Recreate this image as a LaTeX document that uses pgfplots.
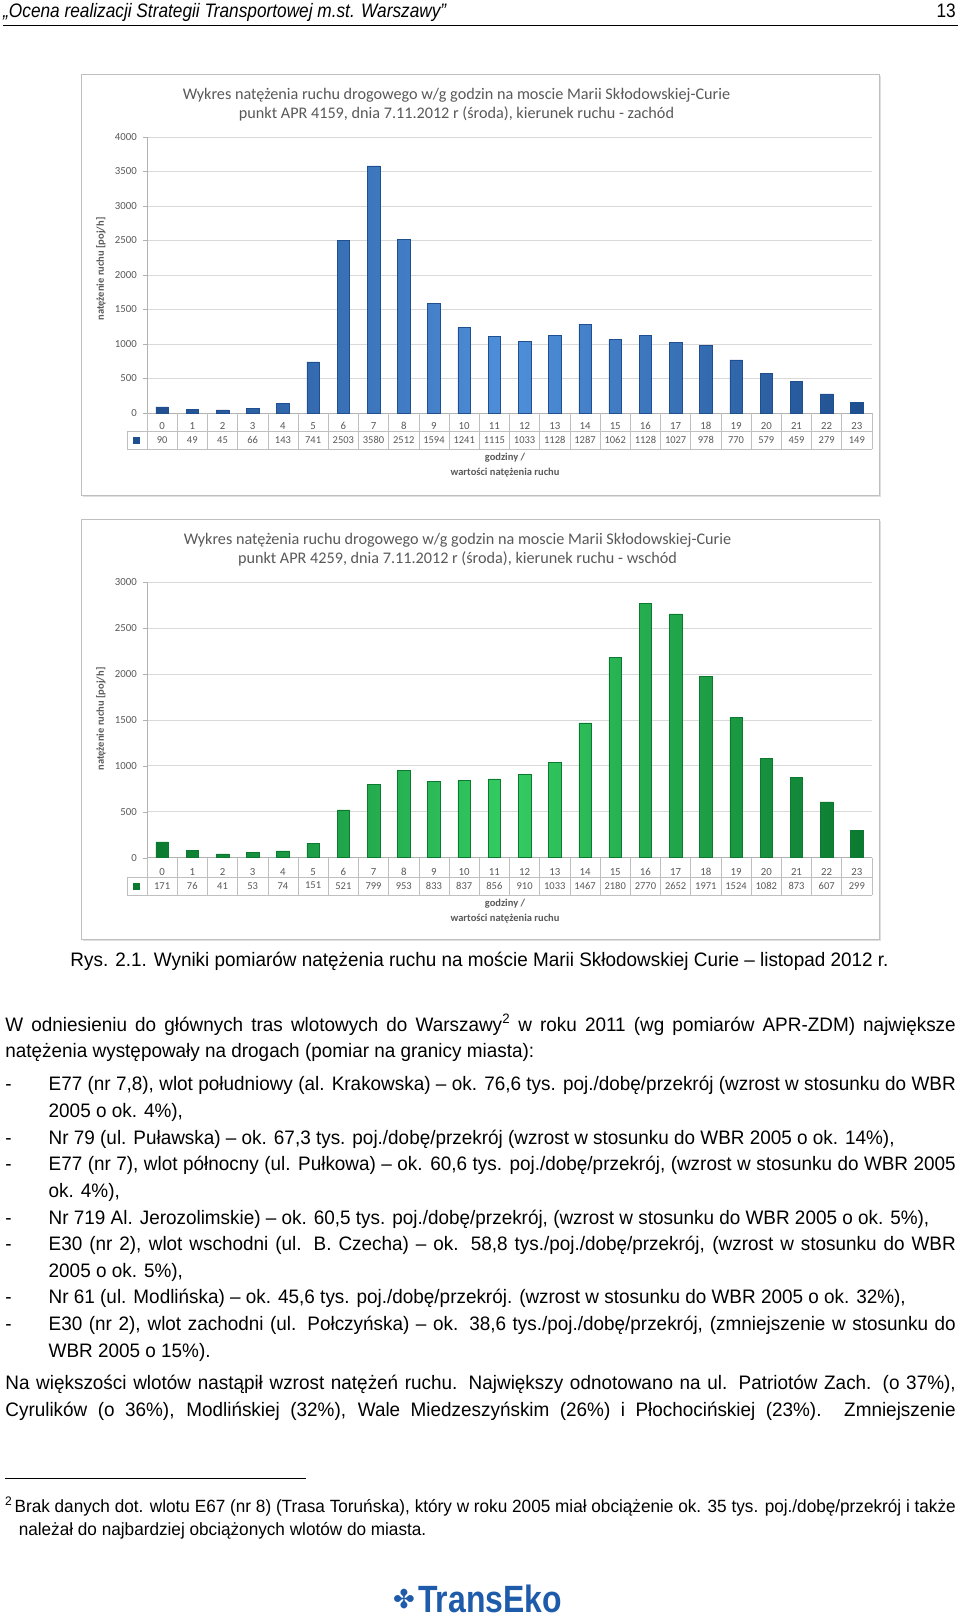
\documentclass[border=0pt]{standalone}
\usepackage{fontspec}
\setmainfont{Liberation Sans}
\newfontfamily\bodyf[FakeStretch=0.97]{Liberation Sans}
\newfontfamily\headf[FakeStretch=0.885]{Liberation Sans}
\newfontfamily\logof[FakeStretch=0.84]{Liberation Sans}
\newfontfamily\calibri{Carlito}
\newfontfamily\dejavu{DejaVu Sans}
\usepackage{pgfplots}
\usepackage{pgfplotstable}
\pgfplotsset{compat=1.18}

\definecolor{blueD}{HTML}{1F4F8F}
\definecolor{blueL}{HTML}{4F8FDA}
\definecolor{greenD}{HTML}{0B7A30}
\definecolor{greenL}{HTML}{34CC62}
\definecolor{chartgray}{HTML}{595959}
\definecolor{gridgray}{HTML}{D9D9D9}
\definecolor{tablegray}{HTML}{BFBFBF}
\definecolor{logoblue}{HTML}{1E5BAA}

\pgfplotstableread{
h v
0 90
1 49
2 45
3 66
4 143
5 741
6 2503
7 3580
8 2512
9 1594
10 1241
11 1115
12 1033
13 1128
14 1287
15 1062
16 1128
17 1027
18 978
19 770
20 579
21 459
22 279
23 149
}\westdata

\pgfplotstableread{
h v
0 171
1 76
2 41
3 53
4 74
5 151
6 521
7 799
8 953
9 833
10 837
11 856
12 910
13 1033
14 1467
15 2180
16 2770
17 2652
18 1971
19 1524
20 1082
21 873
22 607
23 299
}\eastdata

\pgfplotsset{
  trafficaxis/.style={
    scale only axis, width=725pt,
    xmin=-0.5, xmax=23.5, ymin=0,
    enlargelimits=false, clip=false,
    axis x line*=bottom, axis y line*=left,
    axis line style={draw=gray!60, line width=0.6pt},
    ymajorgrids, grid style={draw=gridgray, line width=0.6pt},
    ytick distance=500,
    xtick={0,...,23},
    xtick style={draw=none},
    ytick style={draw=gray!60},
    tick align=outside, major tick length=4pt,
    /pgf/number format/1000 sep={},
    /pgf/number format/assume math mode=true,
    tick label style={font=\calibri\fontsize{10.8}{12}\selectfont, text=chartgray},
    yticklabel style={anchor=east, inner sep=0pt, xshift=-6pt},
    xticklabel style={anchor=center, inner sep=0pt, yshift=#1},
  },
  valrow/.style={draw=none, nodes near coords={\pgfplotspointmeta},
    point meta=explicit symbolic,
    nodes near coords style={anchor=center, inner sep=0pt,
      font=\calibri\fontsize{10.5}{12}\selectfont, text=chartgray}},
}

\newcommand\jline[4]{\node[anchor=base west, inner sep=0pt] at (#1,-#2)
  {\bodyf\fontsize{19.5}{24}\selectfont\hbox to #3pt{#4}};}
\newcommand\tline[3]{\node[anchor=base west, inner sep=0pt] at (#1,-#2)
  {\bodyf\fontsize{19.5}{24}\selectfont #3};}

\begin{document}
\begin{tikzpicture}[x=1pt,y=1pt]
\fill[white] (0,0) rectangle (960,-1618);
\useasboundingbox (0,0) rectangle (960,-1618);

% header
\node[anchor=base west, inner sep=0pt] at (3,-17.5)
  {\headf\itshape\fontsize{19.5}{24}\selectfont „Ocena realizacji Strategii Transportowej m.st. Warszawy”};
\node[anchor=base east, inner sep=0pt] at (956,-17.5)
  {\headf\fontsize{19.5}{24}\selectfont 13};
\draw[line width=1.3pt] (3,-25.5) -- (958,-25.5);

% ---------- chart 1 ----------
\draw[gray!25, line width=1.5pt] (83,-496.5) -- (880.5,-496.5) -- (880.5,-76);
\draw[gray!50, line width=0.8pt, fill=white] (81,-74) rectangle (879,-495);
\node[align=center, font=\calibri\fontsize{16.2}{19}\selectfont, text=chartgray] at (456.5,-104.5)
  {Wykres natężenia ruchu drogowego w/g godzin na moscie Marii Skłodowskiej-Curie\\
   punkt APR 4159, dnia 7.11.2012 r (środa), kierunek ruchu - zachód};
\begin{axis}[trafficaxis=-9pt, height=276pt, ymax=4000,
  at={(147pt,-413pt)}, anchor=south west]
  \addplot[ybar, bar width=12.5pt, draw=blueD, line width=0.5pt,
    left color=blueD, right color=blueD, middle color=blueL]
    table[x=h, y=v] {\westdata};
  \addplot[valrow] table[x=h, y expr=-391, meta=v] {\westdata};
\end{axis}
\foreach \i in {0,...,24} {\draw[tablegray, line width=0.6pt] ({147+\i*30.2083},-413) -- ({147+\i*30.2083},-449);}
\draw[tablegray, line width=0.6pt] (127,-431) -- (872,-431);
\draw[tablegray, line width=0.6pt] (127,-449) -- (872,-449);
\draw[tablegray, line width=0.6pt] (127,-431) -- (127,-449);
\fill[blueD] (133,-436.5) rectangle (140,-443.5);
\node[rotate=90, font=\calibri\bfseries\fontsize{10.5}{12}\selectfont, text=chartgray] at (101,-269)
  {natężenie ruchu [poj/h]};
\node[align=center, font=\calibri\bfseries\fontsize{10.5}{15.5}\selectfont, text=chartgray] at (505,-465)
  {godziny /\\wartości natężenia ruchu};

% ---------- chart 2 ----------
\draw[gray!25, line width=1.5pt] (83,-940.5) -- (880.5,-940.5) -- (880.5,-521);
\draw[gray!50, line width=0.8pt, fill=white] (81,-519) rectangle (879,-939);
\node[align=center, font=\calibri\fontsize{16.2}{19}\selectfont, text=chartgray] at (457.5,-550)
  {Wykres natężenia ruchu drogowego w/g godzin na moscie Marii Skłodowskiej-Curie\\
   punkt APR 4259, dnia 7.11.2012 r (środa), kierunek ruchu - wschód};
\begin{axis}[trafficaxis=-10.4pt, height=275.6pt, ymax=3000,
  at={(147pt,-857.6pt)}, anchor=south west]
  \addplot[ybar, bar width=12.5pt, draw=greenD, line width=0.5pt,
    left color=greenD, right color=greenD, middle color=greenL]
    table[x=h, y=v] {\eastdata};
  \addplot[valrow] table[x=h, y expr=-305, meta=v] {\eastdata};
\end{axis}
\foreach \i in {0,...,24} {\draw[tablegray, line width=0.6pt] ({147+\i*30.2083},-857.6) -- ({147+\i*30.2083},-895);}
\draw[tablegray, line width=0.6pt] (127,-877) -- (872,-877);
\draw[tablegray, line width=0.6pt] (127,-895) -- (872,-895);
\draw[tablegray, line width=0.6pt] (127,-877) -- (127,-895);
\fill[greenD] (133,-882.5) rectangle (140,-889.5);
\node[rotate=90, font=\calibri\bfseries\fontsize{10.5}{12}\selectfont, text=chartgray] at (101,-719)
  {natężenie ruchu [poj/h]};
\node[align=center, font=\calibri\bfseries\fontsize{10.5}{15.5}\selectfont, text=chartgray] at (505,-911)
  {godziny /\\wartości natężenia ruchu};

% caption
\node[anchor=base, inner sep=0pt] at (479.5,-966)
  {\bodyf\fontsize{19.5}{24}\selectfont Rys. 2.1. Wyniki pomiarów natężenia ruchu na moście Marii Skłodowskiej Curie – listopad 2012 r.};

% body text
\jline{5.2}{1031}{950.4}{W odniesieniu do głównych tras wlotowych do Warszawy\textsuperscript{2} w roku 2011 (wg pomiarów APR-ZDM) największe}
\tline{5.2}{1057.5}{natężenia występowały na drogach (pomiar na granicy miasta):}
\tline{5.2}{1090.5}{-}
\jline{48.5}{1090.5}{907.1}{E77 (nr 7,8), wlot południowy (al. Krakowska) – ok. 76,6 tys. poj./dobę/przekrój (wzrost w stosunku do WBR}
\tline{48.5}{1117.5}{2005 o ok. 4\%),}
\tline{5.2}{1144}{-}
\tline{48.5}{1144}{Nr 79 (ul. Puławska) – ok. 67,3 tys. poj./dobę/przekrój (wzrost w stosunku do WBR 2005 o ok. 14\%),}
\tline{5.2}{1170}{-}
\jline{48.5}{1170}{907.1}{E77 (nr 7), wlot północny (ul. Pułkowa) – ok. 60,6 tys. poj./dobę/przekrój, (wzrost w stosunku do WBR 2005}
\tline{48.5}{1197}{ok. 4\%),}
\tline{5.2}{1224}{-}
\tline{48.5}{1224}{Nr 719 Al. Jerozolimskie) – ok. 60,5 tys. poj./dobę/przekrój, (wzrost w stosunku do WBR 2005 o ok. 5\%),}
\tline{5.2}{1250.5}{-}
\jline{48.5}{1250.5}{907.1}{E30 (nr 2), wlot wschodni (ul. B. Czecha) – ok. 58,8 tys./poj./dobę/przekrój, (wzrost w stosunku do WBR}
\tline{48.5}{1277}{2005 o ok. 5\%),}
\tline{5.2}{1303}{-}
\tline{48.5}{1303}{Nr 61 (ul. Modlińska) – ok. 45,6 tys. poj./dobę/przekrój. (wzrost w stosunku do WBR 2005 o ok. 32\%),}
\tline{5.2}{1330}{-}
\jline{48.5}{1330}{907.1}{E30 (nr 2), wlot zachodni (ul. Połczyńska) – ok. 38,6 tys./poj./dobę/przekrój, (zmniejszenie w stosunku do}
\tline{48.5}{1357}{WBR 2005 o 15\%).}
\jline{5.2}{1389}{950.4}{Na większości wlotów nastąpił wzrost natężeń ruchu. Największy odnotowano na ul. Patriotów Zach. (o 37\%),}
\jline{5.2}{1416}{950.4}{Cyrulików (o 36\%), Modlińskiej (32\%), Wale Miedzeszyńskim (26\%) i Płochocińskiej (23\%). Zmniejszenie}

% footnote
\draw[line width=0.8pt] (5,-1478) -- (306,-1478);
\node[anchor=base west, inner sep=0pt] at (5,-1512)
  {\bodyf\fontsize{17.7}{22}\selectfont\textsuperscript{2}};
\node[anchor=base west, inner sep=0pt] at (14.4,-1512)
  {\bodyf\fontsize{17.7}{22}\selectfont\hbox to 941.2pt{Brak danych dot. wlotu E67 (nr 8) (Trasa Toruńska), który w roku 2005 miał obciążenie ok. 35 tys. poj./dobę/przekrój i także}};
\node[anchor=base west, inner sep=0pt] at (18.6,-1535.5)
  {\bodyf\fontsize{17.7}{22}\selectfont należał do najbardziej obciążonych wlotów do miasta.};

% logo
\node[inner sep=0pt, text=logoblue] at (404,-1599) {\dejavu\fontsize{26}{26}\selectfont ✤};
\node[anchor=base west, inner sep=0pt, text=logoblue] at (418,-1612)
  {\logof\bfseries\fontsize{38}{38}\selectfont TransEko};
\end{tikzpicture}
\end{document}
